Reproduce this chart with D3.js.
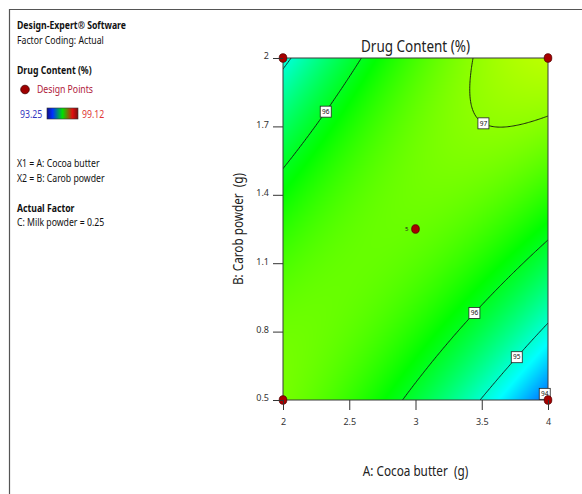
<!DOCTYPE html>
<html>
<head>
<meta charset="utf-8">
<script src="https://cdn.jsdelivr.net/npm/d3@7"></script>
<style>
  html, body { margin: 0; padding: 0; background: #fff; }
  svg { display: block; font-family: "Noto Sans", "Open Sans", sans-serif; }
</style>
</head>
<body>
<svg id="chart" width="582" height="494"></svg>
<script>
// ---- Factor ranges (actual units) ----
const cocoaButterRange = [2, 4];      // A: Cocoa butter (g)
const carobPowderRange = [0.5, 2];    // B: Carob powder (g)
const xTickValues = [2, 2.5, 3, 3.5, 4];
const yTickValues = [0.5, 0.8, 1.1, 1.4, 1.7, 2];

// ---- Quadratic response model in coded factors (C held at 0.25) ----
const modelTerms = ["Intercept", "A", "B", "AB", "A²", "B²"];
const modelCoefficients = [96.776, -0.155, 0.359, 1.355, -0.509, -0.56];

// ---- Response colouring range and contour levels ----
const responseRange = [93.25, 99.12];
const rampColors = ["#0000ff", "#00ffff", "#00ff00", "#ffff00", "#ff0000"];
const contourLevels = [94, 95, 96, 97];

// ---- Contour labels (level, approximate A, approximate B) ----
const labelLevels = [96, 97, 96, 95, 94];
const labelA = [2.30, 3.55, 3.43, 3.75, 3.96];
const labelB = [1.78, 1.76, 0.895, 0.70, 0.54];

// ---- Design points ----
const designA = [2, 4, 2, 4, 3];
const designB = [2, 2, 0.5, 0.5, 1.25];
const designReplicates = [1, 1, 1, 1, 5];

// ---- Side panel text ----
const panelLines = [
  { text: "Design-Expert® Software", y: 29, bold: true },
  { text: "Factor Coding: Actual", y: 44 },
  { text: "Drug Content (%)", y: 74, bold: true },
  { text: "X1 = A: Cocoa butter", y: 167 },
  { text: "X2 = B: Carob powder", y: 182 },
  { text: "Actual Factor", y: 212, bold: true },
  { text: "C: Milk powder = 0.25", y: 226 }
];

const svg = d3.select("#chart");
const W = 582, H = 494;
const plot = { left: 283, right: 548, top: 58, bottom: 400 };
const condense = 0.87;   // horizontal squeeze so Noto Sans sets like a narrower UI face

const x = d3.scaleLinear().domain(cocoaButterRange).range([plot.left, plot.right]);
const y = d3.scaleLinear().domain(carobPowderRange).range([plot.bottom, plot.top]);

// coded-factor model
const aMid = (cocoaButterRange[0] + cocoaButterRange[1]) / 2, aHalf = (cocoaButterRange[1] - cocoaButterRange[0]) / 2;
const bMid = (carobPowderRange[0] + carobPowderRange[1]) / 2, bHalf = (carobPowderRange[1] - carobPowderRange[0]) / 2;
function response(A, B) {
  const a = (A - aMid) / aHalf, b = (B - bMid) / bHalf;
  const c = modelCoefficients;
  return c[0] + c[1] * a + c[2] * b + c[3] * a * b + c[4] * a * a + c[5] * b * b;
}

const colorStops = rampColors.map((_, i) => responseRange[0] + i * (responseRange[1] - responseRange[0]) / (rampColors.length - 1));
const color = d3.scaleLinear().domain(colorStops).range(rampColors).clamp(true);

function addText(parent, tx, ty, str, size, opts = {}) {
  const t = parent.append("text")
    .attr("transform", `translate(${tx},${ty})${opts.rotate ? ` rotate(${opts.rotate})` : ""} scale(${condense},1)`)
    .attr("font-size", size).attr("fill", opts.fill || "#111")
    .attr("text-anchor", opts.anchor || "start")
    .attr("xml:space", "preserve")
    .text(str);
  if (opts.bold) t.attr("font-weight", "bold");
  return t;
}

// ---- Outer frame (top and left edges) ----
svg.append("line").attr("x1", 9).attr("x2", W).attr("y1", 9.5).attr("y2", 9.5)
  .attr("stroke", "#555").attr("stroke-width", 1.2);
svg.append("line").attr("x1", 9.5).attr("x2", 9.5).attr("y1", 9).attr("y2", H)
  .attr("stroke", "#555").attr("stroke-width", 1.2);

// ---- Side panel ----
const panel = svg.append("g");
panelLines.forEach(l => addText(panel, 17, l.y, l.text, 10, { bold: l.bold }));
panel.append("circle").attr("cx", 25).attr("cy", 89.5).attr("r", 4.3)
  .attr("fill", "#a00000").attr("stroke", "#400").attr("stroke-width", 0.8);
addText(panel, 37, 93, "Design Points", 10, { fill: "#b0203a" });

const defs = svg.append("defs");
const grad = defs.append("linearGradient").attr("id", "legendRamp");
[["0%", "#10108a"], ["18%", "#0030ff"], ["50%", "#00e000"], ["82%", "#e01010"], ["100%", "#7a1010"]]
  .forEach(s => grad.append("stop").attr("offset", s[0]).attr("stop-color", s[1]));
addText(panel, 20, 117.5, d3.format(".2f")(responseRange[0]), 10, { fill: "#3535c0" });
panel.append("rect").attr("x", 47).attr("y", 108).attr("width", 31).attr("height", 11)
  .attr("fill", "url(#legendRamp)").attr("stroke", "#333").attr("stroke-width", 0.6);
addText(panel, 82, 117.5, d3.format(".2f")(responseRange[1]), 10, { fill: "#e03535" });

// ---- Coloured response surface ----
const pw = plot.right - plot.left, ph = plot.bottom - plot.top;
const canvas = document.createElement("canvas");
canvas.width = pw; canvas.height = ph;
const ctx = canvas.getContext("2d");
const img = ctx.createImageData(pw, ph);
for (let j = 0; j < ph; j++) {
  const B = y.invert(plot.top + j + 0.5);
  for (let i = 0; i < pw; i++) {
    const A = x.invert(plot.left + i + 0.5);
    const c = d3.rgb(color(response(A, B)));
    const k = (j * pw + i) * 4;
    img.data[k] = c.r; img.data[k + 1] = c.g; img.data[k + 2] = c.b; img.data[k + 3] = 255;
  }
}
ctx.putImageData(img, 0, 0);
svg.append("image").attr("x", plot.left).attr("y", plot.top)
  .attr("width", pw).attr("height", ph).attr("href", canvas.toDataURL());

// ---- Contour lines ----
defs.append("clipPath").attr("id", "plotClip").append("rect")
  .attr("x", plot.left).attr("y", plot.top).attr("width", pw).attr("height", ph);

const gx = 241, gy = 241;
const aExt = [cocoaButterRange[0] - 0.1, cocoaButterRange[1] + 0.1];
const bExt = [carobPowderRange[0] - 0.1, carobPowderRange[1] + 0.1];
const gridA = c => aExt[0] + (c - 0.5) / (gx - 1) * (aExt[1] - aExt[0]);
const gridB = c => bExt[0] + (c - 0.5) / (gy - 1) * (bExt[1] - bExt[0]);
const values = new Array(gx * gy);
for (let j = 0; j < gy; j++)
  for (let i = 0; i < gx; i++)
    values[j * gx + i] = response(gridA(i + 0.5), gridB(j + 0.5));

const contours = d3.contours().size([gx, gy]).thresholds(contourLevels)(values);
const toPixels = d3.geoTransform({
  point: function (cx, cy) { this.stream.point(x(gridA(cx)), y(gridB(cy))); }
});
svg.append("g").attr("clip-path", "url(#plotClip)")
  .selectAll("path").data(contours).join("path")
  .attr("d", d3.geoPath(toPixels))
  .attr("fill", "none").attr("stroke", "#111").attr("stroke-width", 0.9);

// ---- Plot frame ----
svg.append("rect").attr("x", plot.left).attr("y", plot.top).attr("width", pw).attr("height", ph)
  .attr("fill", "none").attr("stroke", "#3a3a3a").attr("stroke-width", 1);

// ---- Contour labels, snapped onto their level ----
function snap(level, A, B) {
  let a = (A - aMid) / aHalf, b = (B - bMid) / bHalf;
  const c = modelCoefficients;
  for (let it = 0; it < 20; it++) {
    const f = response(a * aHalf + aMid, b * bHalf + bMid) - level;
    const ga = c[1] + c[3] * b + 2 * c[4] * a;
    const gb = c[2] + c[3] * a + 2 * c[5] * b;
    const g2 = ga * ga + gb * gb;
    a -= f * ga / g2; b -= f * gb / g2;
  }
  return [a * aHalf + aMid, b * bHalf + bMid];
}
const labels = svg.append("g").selectAll("g").data(d3.range(labelLevels.length)).join("g")
  .attr("transform", i => {
    const p = snap(labelLevels[i], labelA[i], labelB[i]);
    return `translate(${x(p[0])},${y(p[1])})`;
  });
labels.append("rect").attr("x", -5.5).attr("y", -5.5).attr("width", 11).attr("height", 11)
  .attr("fill", "#fff").attr("stroke", "#222").attr("stroke-width", 0.8);
labels.append("text").attr("text-anchor", "middle").attr("dy", "0.35em")
  .attr("font-size", 6.5).attr("fill", "#111").text(i => labelLevels[i]);

// ---- Design points ----
const pts = svg.append("g").selectAll("g").data(d3.range(designA.length)).join("g")
  .attr("transform", i => `translate(${x(designA[i])},${y(designB[i])})`);
pts.append("ellipse").attr("rx", 3.8).attr("ry", 4.3)
  .attr("fill", "#a80000").attr("stroke", "#500").attr("stroke-width", 0.8);
pts.filter(i => designReplicates[i] > 1).append("text")
  .attr("x", -7).attr("dy", "0.35em").attr("text-anchor", "end")
  .attr("font-size", 6).attr("fill", "#222")
  .text(i => designReplicates[i]);

// ---- Axes ----
const xAxis = svg.append("g").attr("transform", `translate(0,${plot.bottom})`)
  .call(d3.axisBottom(x).tickValues(xTickValues).tickSize(10).tickPadding(9).tickFormat(d3.format("")));
const yAxis = svg.append("g").attr("transform", `translate(${plot.left},0)`)
  .call(d3.axisLeft(y).tickValues(yTickValues).tickSize(10).tickPadding(4).tickFormat(d3.format("")));
[xAxis, yAxis].forEach(ax => {
  ax.select(".domain").remove();
  ax.selectAll(".tick line").attr("stroke", "#333");
  ax.selectAll(".tick text").attr("fill", "#333").attr("font-size", 9)
    .attr("font-family", "'Noto Sans', sans-serif");
});
yAxis.selectAll(".tick text").attr("dy", "0.1em");

// ---- Titles ----
addText(svg, (plot.left + plot.right) / 2, 52, "Drug Content (%)", 15.5, { anchor: "middle", fill: "#222" });
addText(svg, (plot.left + plot.right) / 2, 476, "A: Cocoa butter  (g)", 13.5, { anchor: "middle", fill: "#222" });
addText(svg, 243, (plot.top + plot.bottom) / 2, "B: Carob powder  (g)", 13.5, { anchor: "middle", fill: "#222", rotate: -90 });
</script>
</body>
</html>
